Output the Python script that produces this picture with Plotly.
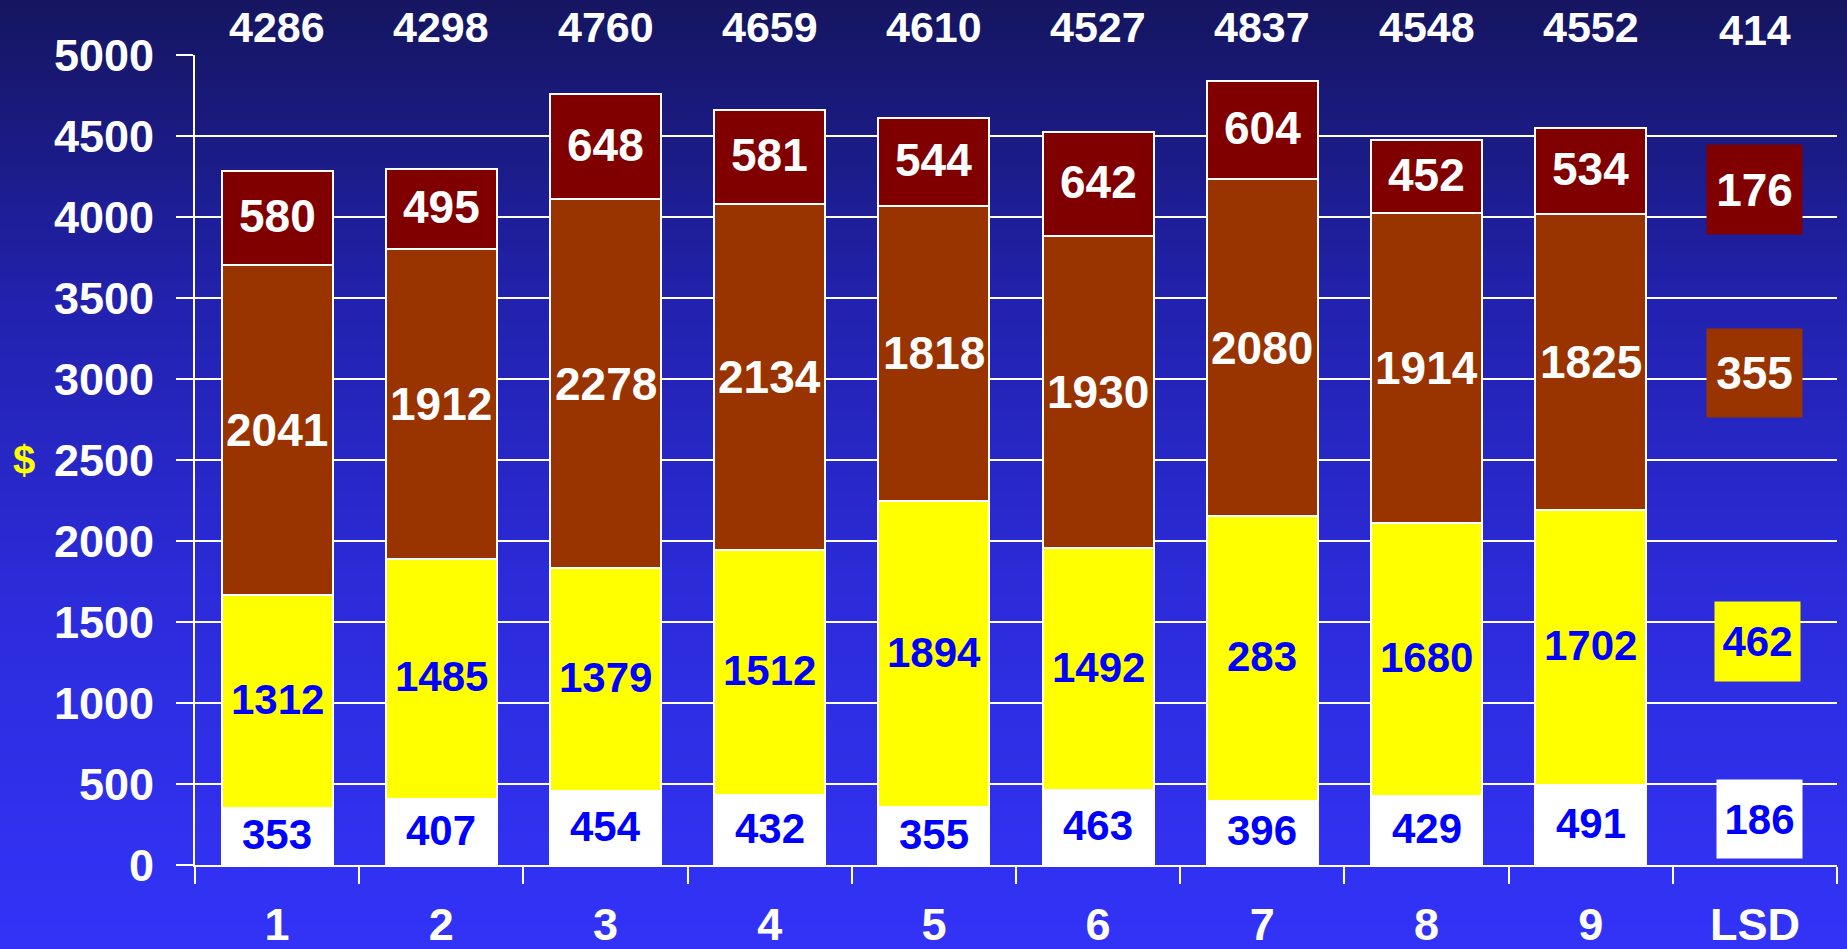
import plotly.graph_objects as go

# ---------------- data ----------------
categories = ["1", "2", "3", "4", "5", "6", "7", "8", "9"]
all_categories = categories + ["LSD"]

white_vals = [353, 407, 454, 432, 355, 463, 396, 429, 491]
yellow_vals = [1312, 1485, 1379, 1512, 1894, 1492, 1757, 1680, 1702]      # heights as drawn
yellow_printed = [1312, 1485, 1379, 1512, 1894, 1492, 283, 1680, 1702]    # labels as printed
brown_vals = [2041, 1912, 2278, 2134, 1818, 1930, 2080, 1914, 1825]
maroon_vals = [580, 495, 648, 581, 544, 642, 604, 452, 534]
total_printed = [4286, 4298, 4760, 4659, 4610, 4527, 4837, 4548, 4552]

lsd_total = 414
lsd_values = [186, 462, 355, 176]          # white, yellow, brown, maroon

# ---------------- layout constants ----------------
FONT = "Liberation Sans, Arial, sans-serif"
W, H = 1847, 949
ML, MR, MT, MB = 195, 10, 55, 84
BLUE_TXT = "#0000FF"

# name, heights, printed labels, fill, text colour, font size, label y-shift (px)
series = [
    ("white", white_vals, white_vals, "#FFFFFF", BLUE_TXT, 42, 2),
    ("yellow", yellow_vals, yellow_printed, "#FFFF00", BLUE_TXT, 42, 2),
    ("brown", brown_vals, brown_vals, "#993300", "#FFFFFF", 46, 0),
    ("maroon", maroon_vals, maroon_vals, "#800000", "#FFFFFF", 46, 2),
]
lsd_label_y = [284, 1380, 3034, 4170]
lsd_box = [(85, 78, 5), (85, 79, 3), (95, 88, 0), (95, 89, 0)]

fig = go.Figure()
annotations = []

base = [0] * len(categories)
for name, vals, printed, fill, tcol, fs, ys in series:
    fig.add_trace(go.Bar(
        x=categories, y=vals, name=name,
        marker=dict(color=fill, line=dict(color="#FFFFFF", width=2)),
        textposition="none", showlegend=False, hoverinfo="x+y",
    ))
    for i, (b, v, p) in enumerate(zip(base, vals, printed)):
        annotations.append(dict(
            x=i, y=b + v / 2, xref="x", yref="y", yshift=ys,
            text=str(p), showarrow=False, yanchor="middle",
            font=dict(family=FONT, size=fs, color=tcol, weight="bold"),
        ))
    base = [b + v for b, v in zip(base, vals)]

# totals on top (x as category index)
for i, tot in enumerate(total_printed):
    annotations.append(dict(
        x=i, y=1, xref="x", yref="paper", yanchor="middle", yshift=28,
        text=str(tot), showarrow=False,
        font=dict(family=FONT, size=43, color="#FFFFFF", weight="bold"),
    ))
annotations.append(dict(
    x=len(categories), y=1, xref="x", yref="paper", yanchor="middle", yshift=25,
    text=str(lsd_total), showarrow=False,
    font=dict(family=FONT, size=43, color="#FFFFFF", weight="bold"),
))
# LSD boxes
for (name, vals, printed, fill, tcol, fs, ys), v, yy, (bw, bh, xs) in zip(series, lsd_values, lsd_label_y, lsd_box):
    annotations.append(dict(
        x=len(categories), y=yy, xref="x", yref="y", xshift=xs,
        text=str(v), showarrow=False, bgcolor=fill, borderpad=0,
        width=bw, height=bh, valign="middle", align="center",
        font=dict(family=FONT, size=fs, color=tcol, weight="bold"),
    ))
# "$" axis title
annotations.append(dict(
    x=0, y=2500, xref="paper", yref="y", xanchor="center", xshift=-171,
    text="$", showarrow=False,
    font=dict(family=FONT, size=40, color="#FFFF00", weight="bold"),
))

# background gradient (figure pixels -> paper coords)
stops = [(0, (21, 21, 96)), (310, (34, 34, 175)), (610, (44, 44, 220)), (949, (51, 51, 248))]
pw, ph = W - ML - MR, H - MT - MB


def col_at(p):
    for (p0, c0), (p1, c1) in zip(stops[:-1], stops[1:]):
        if p0 <= p <= p1:
            t = (p - p0) / (p1 - p0)
            return "rgb(%d,%d,%d)" % tuple(round(a + (b - a) * t) for a, b in zip(c0, c1))
    return "rgb(%d,%d,%d)" % stops[-1][1]


shapes = []
N = 120
for i in range(N):
    p0 = H * i / N
    p1 = H * (i + 1) / N + 1
    shapes.append(dict(
        type="rect", xref="paper", yref="paper", layer="below",
        x0=-ML / pw - 0.05, x1=1 + MR / pw + 0.05,
        y0=(H - MB - p1) / ph, y1=(H - MB - p0) / ph,
        line=dict(width=0), fillcolor=col_at((p0 + p1) / 2),
    ))

fig.update_layout(
    width=W, height=H,
    margin=dict(l=ML, r=MR, t=MT, b=MB, pad=0, autoexpand=False),
    paper_bgcolor="rgb(51,51,248)",
    plot_bgcolor="rgba(0,0,0,0)",
    barmode="stack", bargap=0.325,
    showlegend=False,
    annotations=annotations,
    shapes=shapes,
    xaxis=dict(
        type="category", categoryorder="array", categoryarray=all_categories,
        range=[-0.5, 9.5], showgrid=False, zeroline=False, automargin=False,
        showline=True, linecolor="#FFFFFF", linewidth=2,
        ticks="outside", tickson="boundaries", ticklen=17, tickwidth=2, tickcolor="#FFFFFF",
        tickfont=dict(family=FONT, size=45, color="#FFFFFF", weight="bold"),
        ticklabelstandoff=19,
    ),
    yaxis=dict(
        range=[0, 5000], dtick=500, tick0=0, automargin=False,
        showgrid=True, gridcolor="#FFFFFF", gridwidth=2, zeroline=False,
        showline=True, linecolor="#FFFFFF", linewidth=2,
        ticks="outside", ticklen=17, tickwidth=2, tickcolor="#FFFFFF",
        tickfont=dict(family=FONT, size=45, color="#FFFFFF", weight="bold"),
        ticklabelstandoff=13,
    ),
)

fig.write_html(
    "out.html",
    config={"displayModeBar": False},
    post_script="document.body.style.margin='0';document.body.style.padding='0';"
                "document.body.style.overflow='hidden';"
                "document.documentElement.style.overflow='hidden';",
)
